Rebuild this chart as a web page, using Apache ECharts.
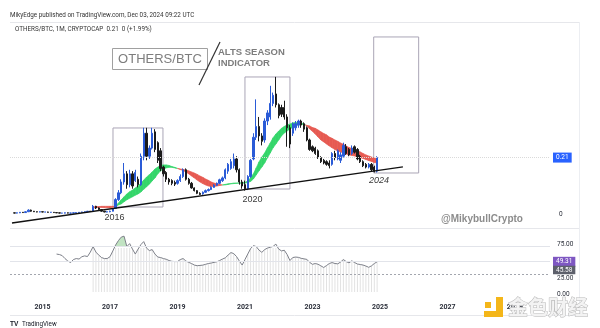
<!DOCTYPE html>
<html><head><meta charset="utf-8">
<script src="https://cdn.jsdelivr.net/npm/echarts@6/dist/echarts.min.js"></script>
<style>html,body{margin:0;padding:0;background:#fff}#c{width:600px;height:328px}</style>
</head><body><div id="c"></div>
<script>
// ---- time references (decimal years) ----
const candleStart = 2014 + 2/12;   // first monthly candle: Mar 2014
const maStart = 2016 + 6/12;       // moving-average ribbon starts Jul 2016
const rsiStart = 2015 + 5/12;      // RSI line starts Jun 2015
const histStart = 2016 + 6/12;     // light histogram starts Jul 2016
const yearTicks = [2015, 2017, 2019, 2021, 2023, 2025, 2027, 2029];
const priceTicks = [0];
const rsiTicks = [0, 25, 75];
const lastPrice = 0.21, lastRsi = 49.31, rsiAvg = 45.58;

// monthly OHLC as [open, close, low, high]
const candles = [
[0.006,0.005,0.004,0.007],[0.005,0.006,0.004,0.007],[0.006,0.008,0.005,0.009],[0.008,0.007,0.006,0.009],
[0.007,0.010,0.006,0.012],[0.010,0.016,0.009,0.019],[0.016,0.012,0.010,0.018],[0.012,0.010,0.009,0.013],
[0.010,0.009,0.008,0.011],[0.009,0.010,0.008,0.011],[0.010,0.009,0.008,0.011],[0.009,0.009,0.008,0.010],
[0.009,0.008,0.007,0.010],[0.008,0.008,0.007,0.009],[0.008,0.007,0.006,0.009],[0.007,0.006,0.005,0.008],
[0.006,0.005,0.004,0.007],[0.005,0.005,0.004,0.006],[0.005,0.006,0.004,0.007],[0.006,0.005,0.004,0.007],
[0.005,0.005,0.004,0.006],[0.005,0.006,0.004,0.007],[0.006,0.007,0.005,0.008],[0.007,0.008,0.006,0.009],
[0.008,0.009,0.007,0.010],[0.009,0.010,0.008,0.011],[0.010,0.012,0.009,0.013],[0.012,0.011,0.009,0.013],
[0.011,0.030,0.010,0.035],[0.030,0.024,0.020,0.032],[0.024,0.018,0.016,0.026],[0.018,0.012,0.010,0.019],
[0.012,0.009,0.008,0.013],[0.009,0.010,0.008,0.011],[0.010,0.012,0.008,0.014],[0.012,0.022,0.011,0.024],
[0.022,0.055,0.020,0.060],[0.055,0.080,0.050,0.090],[0.080,0.120,0.075,0.130],[0.120,0.150,0.110,0.190],
[0.150,0.110,0.095,0.160],[0.110,0.150,0.100,0.165],[0.150,0.105,0.095,0.160],[0.125,0.155,0.120,0.165],
[0.130,0.110,0.100,0.140],[0.110,0.215,0.105,0.225],[0.215,0.300,0.200,0.320],[0.300,0.215,0.200,0.320],
[0.215,0.245,0.205,0.255],[0.245,0.300,0.240,0.320],[0.305,0.240,0.230,0.315],[0.265,0.200,0.190,0.270],
[0.235,0.170,0.160,0.245],[0.175,0.150,0.140,0.180],[0.155,0.130,0.120,0.160],[0.130,0.120,0.110,0.135],
[0.125,0.115,0.108,0.130],[0.118,0.112,0.105,0.125],[0.115,0.125,0.110,0.130],[0.125,0.140,0.120,0.148],
[0.140,0.165,0.135,0.170],[0.165,0.130,0.125,0.170],[0.130,0.115,0.110,0.135],[0.115,0.098,0.095,0.120],
[0.098,0.088,0.085,0.100],[0.088,0.078,0.075,0.090],[0.078,0.074,0.072,0.082],[0.076,0.082,0.073,0.085],
[0.082,0.088,0.080,0.092],[0.088,0.092,0.085,0.096],[0.092,0.100,0.090,0.104],[0.100,0.108,0.098,0.112],
[0.108,0.115,0.105,0.118],[0.115,0.128,0.112,0.132],[0.125,0.135,0.120,0.140],[0.135,0.165,0.130,0.170],
[0.160,0.185,0.150,0.190],[0.170,0.195,0.165,0.205],[0.180,0.205,0.170,0.225],[0.205,0.165,0.155,0.215],
[0.165,0.120,0.110,0.170],[0.120,0.105,0.095,0.128],[0.110,0.095,0.088,0.125],[0.095,0.140,0.090,0.145],
[0.140,0.200,0.135,0.205],[0.205,0.285,0.200,0.300],[0.285,0.325,0.275,0.425],[0.325,0.290,0.270,0.360],
[0.290,0.270,0.255,0.300],[0.275,0.345,0.265,0.355],[0.345,0.375,0.330,0.385],[0.360,0.410,0.350,0.475],
[0.410,0.440,0.400,0.450],[0.445,0.405,0.395,0.508],[0.405,0.365,0.355,0.410],[0.395,0.370,0.360,0.405],
[0.395,0.360,0.350,0.420],[0.360,0.320,0.250,0.370],[0.320,0.260,0.245,0.330],[0.300,0.335,0.290,0.340],
[0.320,0.335,0.310,0.345],[0.330,0.345,0.320,0.350],[0.345,0.330,0.320,0.350],[0.335,0.315,0.305,0.340],
[0.320,0.275,0.270,0.325],[0.275,0.240,0.235,0.280],[0.250,0.235,0.230,0.255],[0.245,0.225,0.220,0.250],
[0.235,0.210,0.205,0.240],[0.210,0.195,0.190,0.215],[0.200,0.190,0.185,0.205],[0.195,0.185,0.180,0.200],
[0.190,0.180,0.170,0.200],[0.185,0.225,0.180,0.230],[0.225,0.210,0.200,0.235],[0.205,0.235,0.200,0.240],
[0.200,0.220,0.190,0.230],[0.215,0.255,0.210,0.265],[0.250,0.225,0.220,0.260],[0.240,0.220,0.215,0.245],
[0.225,0.245,0.220,0.255],[0.250,0.230,0.225,0.255],[0.240,0.205,0.200,0.245],[0.215,0.195,0.190,0.220],
[0.195,0.180,0.175,0.200],[0.185,0.175,0.170,0.190],[0.175,0.185,0.170,0.190],[0.185,0.165,0.160,0.190],
[0.175,0.160,0.155,0.180],[0.160,0.210,0.155,0.215]
];

// ribbon: fast and slow moving averages (monthly)
const fastMA = [
0.024,0.025,0.026,0.026,0.025,0.025,0.024,0.027,0.031,0.042,
0.054,0.065,0.076,0.084,0.090,0.098,0.105,0.116,0.127,0.138,
0.147,0.157,0.168,0.175,0.181,0.183,0.183,0.181,0.177,0.174,
0.170,0.166,0.162,0.157,0.150,0.142,0.135,0.127,0.120,0.114,
0.109,0.105,0.103,0.103,0.105,0.107,0.109,0.111,0.113,0.114,
0.116,0.116,0.116,0.116,0.118,0.124,0.135,0.150,0.172,0.194,
0.212,0.227,0.246,0.264,0.283,0.297,0.308,0.318,0.325,0.331,
0.334,0.338,0.340,0.340,0.338,0.334,0.327,0.316,0.307,0.297,
0.286,0.275,0.268,0.260,0.253,0.246,0.240,0.234,0.231,0.227,
0.223,0.220,0.218,0.216,0.212,0.210,0.207,0.203,0.199,0.196,
0.192,0.190];
const slowMA = [
0.028,0.029,0.029,0.030,0.030,0.030,0.030,0.030,0.029,0.035,
0.039,0.047,0.054,0.060,0.065,0.071,0.076,0.083,0.093,0.102,
0.112,0.124,0.135,0.150,0.161,0.168,0.172,0.174,0.174,0.172,
0.170,0.168,0.166,0.164,0.161,0.157,0.153,0.148,0.142,0.137,
0.131,0.126,0.120,0.116,0.113,0.111,0.109,0.109,0.111,0.113,
0.114,0.115,0.116,0.116,0.116,0.118,0.122,0.131,0.146,0.161,
0.175,0.190,0.209,0.227,0.246,0.260,0.275,0.290,0.301,0.308,
0.316,0.321,0.327,0.331,0.332,0.332,0.329,0.327,0.321,0.318,
0.312,0.305,0.299,0.294,0.286,0.281,0.275,0.270,0.264,0.259,
0.253,0.247,0.244,0.238,0.235,0.231,0.225,0.220,0.216,0.212,
0.209,0.205];

// RSI-style oscillator (monthly)
const rsi = [
62.0,61.2,59.5,54.6,50.6,48.1,53.0,54.6,53.8,57.6,
59.0,57.9,65.2,74.2,65.2,60.3,56.3,54.6,54.6,57.6,
66.9,76.7,84.0,89.7,91.3,74.2,79.1,70.1,62.0,70.1,
77.5,82.4,71.8,67.7,69.3,62.0,57.1,56.3,54.6,53.5,
51.4,50.1,49.7,49.7,53.0,54.6,50.6,48.4,46.5,44.0,
42.9,43.4,43.9,45.2,46.5,47.3,48.4,49.4,51.4,53.8,
55.8,60.3,64.4,62.8,57.9,50.6,44.0,53.0,62.0,70.9,
75.8,74.2,68.5,64.8,69.3,71.8,73.1,74.5,78.3,70.1,
67.2,68.2,61.2,51.4,56.3,57.1,56.6,55.0,54.1,53.3,
48.4,45.2,46.5,45.3,42.7,40.0,43.2,46.5,48.1,46.5,
46.0,48.9,53.0,49.7,47.6,50.9,48.1,45.7,44.9,44.0,
42.4,40.3,42.7,46.5,49.3];
const obFillRange = [20, 25];   // months (index into rsi) of the shaded overbought spike
const obLevel = 75;

// faint histogram columns in the lower pane
const hist = [
72,65.2,60.3,56.3,54.6,54.6,57.6,66.9,72,72,
72,72,72,72,70.1,62.0,70.1,72,72,71.8,
67.7,69.3,62.0,57.1,56.3,54.6,53.5,51.4,50.1,49.7,
49.7,53.0,54.6,50.6,48.4,46.5,44.0,42.9,43.4,43.9,
45.2,46.5,47.3,48.4,49.4,51.4,53.8,55.8,60.3,64.4,
62.8,57.9,50.6,44.0,53.0,62.0,70.9,72,72,68.5,
64.8,69.3,71.8,72,72,72,70.1,67.2,68.2,61.2,
51.4,56.3,57.1,56.6,55.0,54.1,53.3,48.4,45.2,46.5,
45.3,42.7,40.0,43.2,46.5,48.1,46.5,46.0,48.9,53.0,
49.7,47.6,50.9,48.1,45.7,44.9,44.0,42.4,40.3,42.7,
46.5,49.3];

// annotations (data coordinates)
const trendLine = [[2014.096, -0.0315], [2025.681, 0.1753]];
const boxes = [
  [[2017.089, 0.3193], [2018.570, 0.0275]],
  [[2021.000, 0.5076], [2022.333, 0.0940]],
  [[2024.815, 0.6554], [2026.148, 0.1531]]
];

const X_MIN = 2014.037, X_MAX = 2030.04;
const GREEN = '#34d66a', RED = '#e65a52';
const month = (start, i) => start + i / 12;

const chart = echarts.init(document.getElementById('c'), null, {renderer: 'canvas'});

function ribbonItem(params, api) {
  const i = params.dataIndex;
  if (i >= fastMA.length - 1) return {type: 'group', children: []};
  const t0 = month(maStart, i), t1 = month(maStart, i + 1);
  const f0 = fastMA[i], s0 = slowMA[i], f1 = fastMA[i + 1], s1 = slowMA[i + 1];
  const d0 = f0 - s0, d1 = f1 - s1;
  const P = (t, v) => api.coord([t, v]);
  const mk = (pts, d) => {
    const c = d >= 0 ? GREEN : RED;
    return {type: 'polygon', shape: {points: pts}, style: {fill: c, stroke: c, lineWidth: 0.7}};
  };
  const ch = [];
  if (d0 * d1 < 0) {
    const r = d0 / (d0 - d1);
    const tc = t0 + r * (t1 - t0), vc = f0 + r * (f1 - f0);
    ch.push(mk([P(t0, f0), P(tc, vc), P(t0, s0)], d0));
    ch.push(mk([P(tc, vc), P(t1, f1), P(t1, s1)], d1));
  } else {
    ch.push(mk([P(t0, f0), P(t1, f1), P(t1, s1), P(t0, s0)], (d0 + d1) / 2 || d0));
  }
  return {type: 'group', children: ch};
}

function obItem(params, api) {
  const pts = [];
  const [a, b] = obFillRange;
  for (let m = a; m < b; m++) {
    const v0 = rsi[m], v1 = rsi[m + 1];
    const t0 = month(rsiStart, m), t1 = month(rsiStart, m + 1);
    if (v0 >= obLevel) pts.push(api.coord([t0, v0]));
    if ((v0 - obLevel) * (v1 - obLevel) < 0) {
      const r = (obLevel - v0) / (v1 - v0);
      pts.push(api.coord([t0 + r * (t1 - t0), obLevel]));
    }
  }
  if (rsi[b] >= obLevel) pts.push(api.coord([month(rsiStart, b), rsi[b]]));
  return {type: 'polygon', shape: {points: pts}, style: {fill: 'rgba(76,175,80,0.35)'}};
}

const txt = (x, y, text, font, fill, extra) => Object.assign({
  type: 'text', x, y, silent: true, z: 50,
  style: Object.assign({text, font, fill, verticalAlign: 'middle'}, extra || {})
});
const hline = (x1, x2, y, c) => ({type: 'line', silent: true, shape: {x1, y1: y, x2, y2: y}, style: {stroke: c, lineWidth: 1}});
const badge = (bg) => ({show: true, position: 'end', backgroundColor: bg, color: '#fff', fontSize: 6.5, fontFamily: 'Roboto', padding: [2, 3, 1, 3], distance: 3});
const plainLabel = (text, dy) => ({show: true, position: 'end', color: '#2a2e39', fontSize: 6.5, fontFamily: 'Roboto', distance: 7, formatter: text, offset: [0, dy]});

const option = {
  animation: false,
  textStyle: {fontFamily: 'Roboto'},
  grid: [
    {left: 10, width: 540, top: 33, height: 195},
    {left: 10, width: 540, top: 229, height: 66}
  ],
  xAxis: [
    {type: 'value', gridIndex: 0, min: X_MIN, max: X_MAX, axisLine: {show: false}, axisTick: {show: false}, axisLabel: {show: false}, splitLine: {show: false}},
    {type: 'value', gridIndex: 1, min: X_MIN, max: X_MAX, axisLine: {show: false}, axisTick: {show: false}, splitLine: {show: false},
     axisLabel: {customValues: yearTicks, formatter: v => String(v), color: '#2a2e39', fontSize: 7, fontWeight: 'bold', margin: 9}}
  ],
  yAxis: [
    {type: 'value', gridIndex: 0, position: 'right', min: -0.05, max: 0.67, axisLine: {show: false}, axisTick: {show: false}, splitLine: {show: false},
     axisLabel: {customValues: priceTicks, formatter: v => String(v), color: '#2a2e39', fontSize: 6.5, margin: 9}},
    {type: 'value', gridIndex: 1, position: 'right', min: -5, max: 103, axisLine: {show: false}, axisTick: {show: false}, splitLine: {show: false},
     axisLabel: {show: false}}
  ],
  series: [
    {
      type: 'custom', name: 'ribbon', xAxisIndex: 0, yAxisIndex: 0, z: 1, clip: true,
      data: fastMA.map((f, i) => [month(maStart, i), f, slowMA[i]]),
      encode: {x: 0, y: [1, 2]},
      renderItem: ribbonItem
    },
    {
      type: 'candlestick', name: 'OTHERS/BTC', xAxisIndex: 0, yAxisIndex: 0, z: 3,
      dimensions: ['t', 'open', 'close', 'low', 'high'],
      encode: {x: 't', y: ['open', 'close', 'low', 'high']},
      data: candles.map((c, i) => [month(candleStart, i), c[0], c[1], c[2], c[3]]),
      barWidth: 1.8,
      itemStyle: {color: '#2a5bd7', color0: '#1b1b1b', borderColor: '#2a5bd7', borderColor0: '#1b1b1b', borderWidth: 1},
      markArea: {
        silent: true,
        itemStyle: {color: 'rgba(0,0,0,0)', borderColor: '#aaa5b6', borderWidth: 1},
        data: boxes.map(b => [{coord: b[0]}, {coord: b[1]}])
      },
      markLine: {
        silent: true, symbol: ['none', 'none'], animation: false,
        data: [
          [{coord: trendLine[0], lineStyle: {color: '#111', width: 1.3, type: 'solid'}, label: {show: false}}, {coord: trendLine[1]}],
          {yAxis: lastPrice, lineStyle: {color: '#dadada', type: 'dotted', width: 1},
           label: Object.assign(badge('#2962ff'), {formatter: lastPrice.toFixed(2)})}
        ]
      }
    },
    {
      type: 'bar', name: 'hist', xAxisIndex: 1, yAxisIndex: 1, z: 1, barWidth: 1,
      data: hist.map((v, i) => [month(histStart, i), v]),
      itemStyle: {color: '#e2e2e2'}
    },
    {
      type: 'custom', name: 'ob', xAxisIndex: 1, yAxisIndex: 1, z: 2, clip: true,
      data: [[month(rsiStart, obFillRange[0]), obLevel]],
      encode: {x: 0, y: 1},
      renderItem: obItem
    },
    {
      type: 'line', name: 'RSI', xAxisIndex: 1, yAxisIndex: 1, z: 3, symbol: 'none',
      data: rsi.map((v, i) => [month(rsiStart, i), v]),
      lineStyle: {color: '#7c7f88', width: 1},
      markLine: {
        silent: true, symbol: ['none', 'none'], animation: false,
        data: [
          {yAxis: rsiTicks[2], lineStyle: {color: '#e2e4ea', type: 'solid', width: 1}, label: plainLabel(rsiTicks[2].toFixed(2), -2)},
          {yAxis: 50, lineStyle: {color: '#e2e4ea', type: 'solid', width: 1}, label: {show: false}},
          {yAxis: 29, lineStyle: {color: '#a3a6ae', type: [2, 2], width: 1}, label: {show: false}},
          {yAxis: rsiTicks[1], lineStyle: {color: 'rgba(0,0,0,0)', width: 1}, label: plainLabel(rsiTicks[1].toFixed(2), 1.5)},
          {yAxis: rsiTicks[0], lineStyle: {color: 'rgba(0,0,0,0)', width: 1}, label: plainLabel(rsiTicks[0].toFixed(2), 2)},
          {yAxis: lastRsi, lineStyle: {color: 'rgba(0,0,0,0)', width: 1},
           label: Object.assign(badge('#7e57c2'), {formatter: lastRsi.toFixed(2)})}
        ]
      }
    }
  ],
  graphic: [
    txt(10, 15, 'MikyEdge published on TradingView.com, Dec 03, 2024 09:22 UTC', '6.3px Roboto', '#333'),
    hline(10, 579, 22.5, '#e6e7eb'),
    txt(15, 29, 'OTHERS/BTC, 1M, CRYPTOCAP  0.21  0 (+1.99%)', '6.3px Roboto', '#333'),
    hline(10, 579, 228.5, '#e6e7eb'),
    hline(10, 579, 315.5, '#e6e7eb'),
    {type: 'line', silent: true, shape: {x1: 579.5, y1: 22, x2: 579.5, y2: 315}, style: {stroke: '#eceef2', lineWidth: 1}},
    {type: 'rect', silent: true, shape: {x: 112.5, y: 48.5, width: 95, height: 21}, style: {fill: 'none', stroke: '#a0a0a0', lineWidth: 1}},
    txt(160, 59, 'OTHERS/BTC', '13px "Liberation Sans"', '#7d7d7d', {align: 'center'}),
    {type: 'line', silent: true, shape: {x1: 220, y1: 42, x2: 199, y2: 85}, style: {stroke: '#333', lineWidth: 1.2}},
    txt(218, 52.5, 'ALTS SEASON', 'bold 9.5px "Liberation Sans"', '#7d7d7d'),
    txt(218, 63, 'INDICATOR', 'bold 9.5px "Liberation Sans"', '#7d7d7d'),
    txt(114.5, 218, '2016', '9px "Liberation Sans"', '#3a3a3a', {align: 'center'}),
    txt(252.5, 200, '2020', '9px "Liberation Sans"', '#3a3a3a', {align: 'center'}),
    txt(379, 180.5, '2024', 'italic 9px "Liberation Sans"', '#3a3a3a', {align: 'center'}),
    txt(441, 219, '@MikybullCrypto', 'bold 10px "Liberation Sans"', '#8c8c8c'),
    txt(553, 270, rsiAvg.toFixed(2), '6.5px Roboto', '#fff', {backgroundColor: '#5d606b', padding: [1, 3, 0.5, 3]}),
    // watermark logo
    {type: 'rect', silent: true, shape: {x: 496, y: 297, width: 7, height: 20}, style: {fill: '#f4b619'}},
    {type: 'rect', silent: true, shape: {x: 484, y: 311, width: 19, height: 6}, style: {fill: '#f4b619'}},
    {type: 'rect', silent: true, shape: {x: 485, y: 302, width: 6, height: 6}, style: {fill: '#f4b619'}},
    txt(508, 307, '金色财经', 'bold 20px "Noto Sans CJK SC"', '#f3f3f3', {stroke: '#b8b8b8', lineWidth: 1}),
    // TradingView footer
    txt(10, 324, 'TV', 'bold 6.5px "Liberation Sans"', '#131722'),
    txt(22, 324, 'TradingView', '6.3px Roboto', '#131722')
  ]
};
chart.setOption(option);
</script>
</body></html>
